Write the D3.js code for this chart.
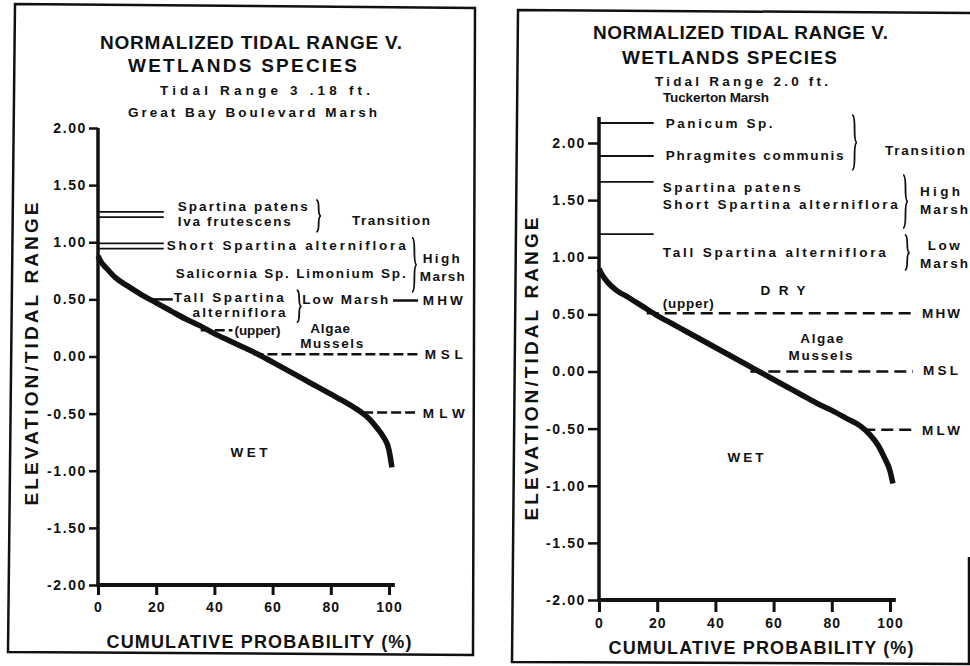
<!DOCTYPE html>
<html>
<head>
<meta charset="utf-8">
<script src="https://cdn.jsdelivr.net/npm/d3@7"></script>
<style>
  body { margin: 0; background: #fff; }
  svg text { font-family: "Liberation Sans", Arial, sans-serif; fill: #111; }
</style>
</head>
<body>
<svg id="chart" width="970" height="666"></svg>
<script>
  const yTicks = [-2, -1.5, -1, -0.5, 0, 0.5, 1, 1.5, 2],
        xTicks = [0, 20, 40, 60, 80, 100];

  // Cumulative probability (%) vs elevation / tidal range
  const leftProb  = [0, 1, 3, 6, 10, 15, 20, 25, 30, 35, 40, 45, 50, 55, 60, 65, 70, 75, 80, 85, 90, 93, 96, 98, 100, 101];
  const leftElev  = [0.88, 0.83, 0.77, 0.69, 0.62, 0.54, 0.47, 0.40, 0.33, 0.27, 0.20, 0.14, 0.08, 0.02, -0.05, -0.12,
                     -0.19, -0.26, -0.33, -0.40, -0.48, -0.54, -0.63, -0.70, -0.82, -0.97];
  const rightProb = [0, 1, 3, 6, 10, 15, 20, 25, 30, 35, 40, 45, 50, 55, 60, 65, 70, 75, 80, 85, 90, 93, 96, 98, 100, 101];
  const rightElev = [0.90, 0.85, 0.78, 0.71, 0.65, 0.57, 0.49, 0.42, 0.35, 0.28, 0.21, 0.14, 0.07, 0.00, -0.07, -0.14,
                     -0.21, -0.28, -0.34, -0.41, -0.48, -0.55, -0.65, -0.75, -0.87, -0.98];

  // upper limit of each species (elevation / tidal range)
  const leftSpeciesLevels  = [1.265, 1.22, 0.99, 0.945];
  const rightSpeciesLevels = [2.175, 1.886, 1.659, 1.203];

  // tidal datum / zone lines: [from %, to %, level, dashed]
  const leftDatums = [
    [18, 25.7, 0.50, false],     // Tall Spartina
    [101.4, 110, 0.49, false],   // MHW
    [35.3, 46.2, 0.23, true],    // (upper)
    [53.4, 110, 0.02, true],     // MSL
    [91.1, 110, -0.49, true]     // MLW
  ];
  const rightDatums = [
    [16.4, 107.9, 0.51, true],   // MHW
    [52, 107.9, 0.00, true],     // MSL
    [90.8, 109.2, -0.51, true]   // MLW
  ];

  // braces: [at %, top level, bottom level]
  const leftBraces  = [[75, 1.37, 1.09], [107.9, 1.04, 0.565], [68.3, 0.58, 0.30]];
  const rightBraces = [[87, 2.245, 1.764], [104.5, 1.72, 1.256], [105.1, 1.195, 0.888]];

  // labels: [text, at %, baseline level, width px]
  const leftLabels = [
    ["Spartina patens", 27.4, 1.273, 130],
    ["Iva frutescens", 27.4, 1.142, 113],
    ["Transition", 87.3, 1.151, 78],
    ["Short Spartina alterniflora", 23.6, 0.932, 239],
    ["Salicornia Sp. Limonium Sp.", 26.7, 0.687, 230],
    ["High", 111.6, 0.818, 37],
    ["Marsh", 110.6, 0.661, 45],
    ["Tall Spartina", 26.0, 0.477, 110],
    ["alterniflora", 32.5, 0.346, 93],
    ["Low Marsh", 70.2, 0.460, 86],
    ["MHW", 111.6, 0.451, 40],
    ["(upper)", 46.9, 0.188, 46],
    ["Algae", 72.9, 0.206, 40],
    ["Mussels", 69.5, 0.074, 63],
    ["MSL", 112.3, -0.022, 38],
    ["MLW", 111.6, -0.538, 42],
    ["WET", 45.5, -0.880, 37]
  ];
  const rightLabels = [
    ["Panicum Sp.", 22.9, 2.131, 107],
    ["Phragmites communis", 22.9, 1.851, 178],
    ["Transition", 98.3, 1.895, 80],
    ["Spartina patens", 21.9, 1.571, 138],
    ["Short Spartina alterniflora", 21.9, 1.422, 235],
    ["High", 110.3, 1.536, 40],
    ["Marsh", 110.3, 1.379, 48],
    ["Tall Spartina alterniflora", 21.9, 1.002, 223],
    ["Low", 113, 1.063, 32],
    ["Marsh", 110.3, 0.906, 48],
    ["DRY", 55.5, 0.670, 45],
    ["(upper)", 21.9, 0.556, 51],
    ["MHW", 111, 0.468, 38],
    ["Algae", 69.2, 0.249, 43],
    ["Mussels", 65.1, 0.101, 64],
    ["MSL", 111.3, -0.031, 35],
    ["MLW", 111, -0.556, 38],
    ["WET", 44.2, -0.792, 36]
  ];

  const leftTitles  = ["NORMALIZED TIDAL RANGE V.", "WETLANDS SPECIES", "Tidal Range 3 .18 ft.", "Great Bay Boulevard Marsh"];
  const rightTitles = ["NORMALIZED TIDAL RANGE V.", "WETLANDS SPECIES", "Tidal Range 2.0 ft.", "Tuckerton Marsh"];
  const xTitle = "CUMULATIVE PROBABILITY (%)",
        yTitle = "ELEVATION/TIDAL RANGE";

  const ink = "#111";
  let svg = d3.select("#chart");

  let fmt = (d) => d3.format(".2f")(d).replace("\u2212", "-");

  function brace (g, x, y0, y1) {
    let h = y1 - y0, m = (y0 + y1) / 2, w = 4;
    g.append("path")
     .attr("d", "M" + x + "," + y0 +
                " Q" + (x + w * 0.6) + "," + y0 + " " + (x + w * 0.6) + "," + (y0 + h * 0.25) +
                " Q" + (x + w * 0.6) + "," + m + " " + (x + w * 1.2) + "," + m +
                " Q" + (x + w * 0.6) + "," + m + " " + (x + w * 0.6) + "," + (y1 - h * 0.25) +
                " Q" + (x + w * 0.6) + "," + y1 + " " + x + "," + y1)
     .style("fill", "none")
     .style("stroke", ink)
     .style("stroke-width", 1.8);
  }

  function drawPanel (p) {
    let x = d3.scaleLinear().domain([0, 100]).range(p.xRange);
    let y = d3.scaleLinear().domain([-2, 2]).range(p.yRange);
    let g = svg.append("g");

    // Frame (scanned page, slightly skewed)
    g.append("path")
     .attr("d", p.frame)
     .style("fill", "none")
     .style("stroke", ink)
     .style("stroke-width", 2.5);

    // Titles
    p.titles.forEach((t, i) => {
      g.append("text")
       .attr("x", p.titlePos[i][0])
       .attr("y", p.titlePos[i][1])
       .attr("textLength", p.titlePos[i][2])
       .attr("lengthAdjust", "spacing")
       .attr("font-size", i < 2 ? 19 : 13.5)
       .attr("font-weight", "bold")
       .text(t);
    });

    // y-Axis ticks
    let yAxis = d3.axisLeft(y)
                  .tickValues(yTicks)
                  .tickFormat(fmt)
                  .tickSize(p.yTickSize)
                  .tickPadding(2);
    let ya = g.append("g")
              .attr("transform", "translate(" + x(0) + ",0)")
              .call(yAxis);
    ya.select(".domain").remove();
    ya.selectAll("line").attr("stroke", ink).attr("stroke-width", 2.5);
    ya.selectAll("text")
      .attr("font-size", 14)
      .attr("font-weight", "bold")
      .attr("letter-spacing", "1.6px")
      .style("font-family", "'Liberation Sans', Arial, sans-serif")
      .attr("fill", ink);

    // x-Axis ticks
    let xAxis = d3.axisBottom(x)
                  .tickValues(xTicks)
                  .tickFormat(d3.format("d"))
                  .tickSize(p.xTickSize)
                  .tickPadding(p.xTickPad);
    let xa = g.append("g")
              .attr("transform", "translate(0," + y(-2) + ")")
              .call(xAxis);
    xa.select(".domain").remove();
    xa.selectAll("line").attr("stroke", ink).attr("stroke-width", 3);
    xa.selectAll("text")
      .attr("font-size", 14)
      .attr("font-weight", "bold")
      .attr("letter-spacing", "1px")
      .style("font-family", "'Liberation Sans', Arial, sans-serif")
      .attr("fill", ink);

    // Axis lines
    g.append("line")
     .attr("x1", x(0)).attr("x2", x(0))
     .attr("y1", y(p.yTop)).attr("y2", y(-2) + 1.5)
     .style("stroke", ink).style("stroke-width", 3.5);
    g.append("line")
     .attr("x1", x(0) - 1.5).attr("x2", x(102))
     .attr("y1", y(-2)).attr("y2", y(-2))
     .style("stroke", ink).style("stroke-width", 4);

    // Axis labels
    g.append("text")
     .attr("text-anchor", "middle")
     .attr("x", p.xTitlePos[0])
     .attr("y", p.xTitlePos[1])
     .attr("textLength", 305)
     .attr("lengthAdjust", "spacing")
     .attr("font-size", 18)
     .attr("font-weight", "bold")
     .text(xTitle);
    g.append("text")
     .attr("text-anchor", "middle")
     .attr("transform", "translate(" + p.yTitlePos[0] + "," + p.yTitlePos[1] + ") rotate(-90)")
     .attr("textLength", 303)
     .attr("lengthAdjust", "spacing")
     .attr("font-size", 19)
     .attr("font-weight", "bold")
     .text(yTitle);

    // Species lines
    g.selectAll(".species")
     .data(p.species)
     .enter()
     .append("line")
     .attr("x1", x(0)).attr("x2", x(p.speciesEnd))
     .attr("y1", (d) => y(d)).attr("y2", (d) => y(d))
     .style("stroke", ink).style("stroke-width", 1.8);

    // Datum lines
    g.selectAll(".datum")
     .data(p.datums)
     .enter()
     .append("line")
     .attr("x1", (d) => x(d[0])).attr("x2", (d) => x(d[1]))
     .attr("y1", (d) => y(d[2])).attr("y2", (d) => y(d[2]))
     .style("stroke", ink)
     .style("stroke-width", 2.5)
     .style("stroke-dasharray", (d) => d[3] ? p.dash : null);

    // Braces
    p.braces.forEach((b) => brace(g, x(b[0]), y(b[1]), y(b[2])));

    // Labels
    g.selectAll(".label")
     .data(p.labels)
     .enter()
     .append("text")
     .attr("x", (d) => x(d[1]))
     .attr("y", (d) => y(d[2]))
     .attr("textLength", (d) => d[3])
     .attr("lengthAdjust", "spacing")
     .attr("font-size", 13.5)
     .attr("font-weight", "bold")
     .text((d) => d[0]);

    // Data line
    let line = d3.line()
                 .x((d) => x(d[0]))
                 .y((d) => y(d[1]))
                 .curve(d3.curveMonotoneX);
    g.append("path")
     .datum(d3.zip(p.prob, p.elev))
     .attr("d", line)
     .style("fill", "none")
     .style("stroke", ink)
     .style("stroke-width", 5.5)
     .style("stroke-linecap", "butt");
  }

  drawPanel({
    xRange: [98, 389], yRange: [585, 128], yTop: 2,
    frame: "M15,4 L475,8 L473,655 L8,652 Z",
    titles: leftTitles,
    titlePos: [[100, 49, 302], [128, 72, 229], [160, 95, 210], [128, 117, 249]],
    yTickSize: 9, xTickSize: 10, xTickPad: 7,
    xTitlePos: [259, 648], yTitlePos: [38, 354],
    species: leftSpeciesLevels, speciesEnd: 22.6,
    datums: leftDatums, dash: "10,4",
    braces: leftBraces, labels: leftLabels,
    prob: leftProb, elev: leftElev
  });

  drawPanel({
    xRange: [599, 890], yRange: [600, 143], yTop: 2.228,
    frame: "M969,557 L969,664 L512,662 L518,10 L970,13",
    titles: rightTitles,
    titlePos: [[593, 39, 295], [622, 64, 215], [655, 86, 173], [663, 102, 106]],
    yTickSize: 11, xTickSize: 12, xTickPad: 6,
    xTitlePos: [761, 654], yTitlePos: [538, 369],
    species: rightSpeciesLevels, speciesEnd: 18.8,
    datums: rightDatums, dash: "12,6",
    braces: rightBraces, labels: rightLabels,
    prob: rightProb, elev: rightElev
  });
</script>
</body>
</html>
